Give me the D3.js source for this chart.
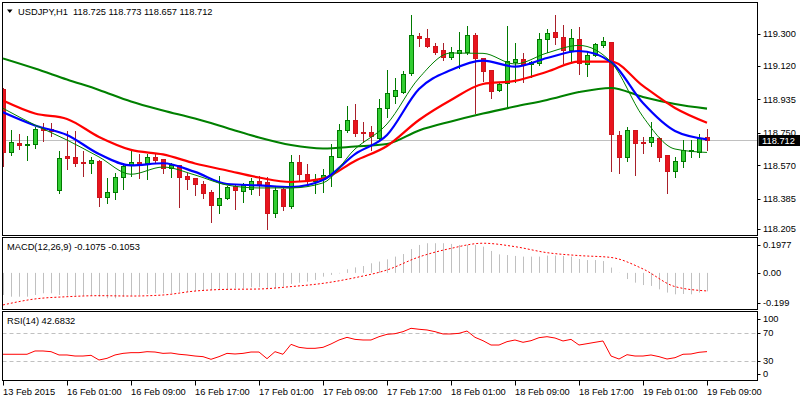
<!DOCTYPE html>
<html>
<head>
<meta charset="utf-8">
<script src="https://cdn.jsdelivr.net/npm/d3@7/dist/d3.min.js"></script>
<style>
  html, body { margin: 0; padding: 0; background: #fff; }
  svg { display: block; }
  text { font-family: "Liberation Sans", Arial, sans-serif; font-size: 9.3px; fill: #000; }
</style>
</head>
<body>
<svg id="chart" width="800" height="400"></svg>
<script>
// USDJPY H1 candles with 4 moving averages, MACD and RSI sub-windows

const symbolTitle = "USDJPY,H1  118.725 118.773 118.657 118.712";

const timeLabels = ["13 Feb 2015", "16 Feb 01:00", "16 Feb 09:00", "16 Feb 17:00", "17 Feb 01:00", "17 Feb 09:00",
  "17 Feb 17:00", "18 Feb 01:00", "18 Feb 09:00", "18 Feb 17:00", "19 Feb 01:00", "19 Feb 09:00"];
const timeTickBars = [0, 8, 16, 24, 32, 40, 48, 56, 64, 72, 80, 88];

const open = [118.993, 118.645, 118.692, 118.681, 118.686, 118.777, 118.771, 118.433, 118.621, 118.614,
  118.590, 118.581, 118.594, 118.392, 118.420, 118.503, 118.570, 118.586, 118.584, 118.614,
  118.603, 118.553, 118.570, 118.509, 118.498, 118.464, 118.422, 118.351, 118.387, 118.455,
  118.429, 118.440, 118.483, 118.475, 118.303, 118.436, 118.345, 118.586, 118.520, 118.484,
  118.492, 118.520, 118.617, 118.764, 118.821, 118.753, 118.753, 118.722, 118.889, 118.956,
  118.975, 119.084, 119.287, 119.276, 119.233, 119.210, 119.172, 119.195, 119.200, 119.291,
  119.163, 119.099, 118.988, 119.025, 119.145, 119.158, 119.130, 119.136, 119.269, 119.308,
  119.280, 119.210, 119.269, 119.132, 119.182, 119.236, 119.254, 118.738, 118.617, 118.766,
  118.701, 118.701, 118.720, 118.625, 118.540, 118.595, 118.651, 118.645, 118.725];
const high = [118.999, 118.766, 118.743, 118.732, 118.784, 118.803, 118.803, 118.649, 118.760, 118.760,
  118.649, 118.617, 118.600, 118.498, 118.529, 118.581, 118.655, 118.633, 118.633, 118.633,
  118.605, 118.581, 118.571, 118.525, 118.499, 118.484, 118.433, 118.510, 118.455, 118.458,
  118.470, 118.501, 118.512, 118.503, 118.449, 118.442, 118.627, 118.627, 118.577, 118.521,
  118.547, 118.688, 118.799, 118.899, 118.910, 118.812, 118.788, 118.936, 119.099, 119.053,
  119.093, 119.404, 119.306, 119.326, 119.248, 119.247, 119.225, 119.311, 119.343, 119.302,
  119.165, 119.101, 119.032, 119.343, 119.247, 119.191, 119.149, 119.302, 119.324, 119.404,
  119.348, 119.324, 119.339, 119.200, 119.247, 119.280, 119.254, 118.762, 118.784, 118.766,
  118.725, 118.810, 118.727, 118.627, 118.614, 118.711, 118.711, 118.742, 118.773];
const low = [118.566, 118.627, 118.662, 118.600, 118.667, 118.706, 118.734, 118.415, 118.548, 118.566,
  118.512, 118.525, 118.345, 118.362, 118.383, 118.438, 118.512, 118.501, 118.495, 118.581,
  118.529, 118.506, 118.340, 118.440, 118.403, 118.387, 118.257, 118.303, 118.381, 118.326,
  118.368, 118.409, 118.405, 118.215, 118.284, 118.322, 118.334, 118.488, 118.470, 118.414,
  118.423, 118.456, 118.614, 118.756, 118.734, 118.697, 118.655, 118.716, 118.839, 118.914,
  118.969, 119.071, 119.232, 119.225, 119.187, 119.154, 119.158, 119.108, 119.187, 118.858,
  119.039, 118.941, 118.982, 118.899, 119.034, 119.034, 119.061, 119.126, 119.200, 119.241,
  119.136, 119.136, 119.076, 119.065, 119.176, 119.228, 118.540, 118.525, 118.595, 118.516,
  118.640, 118.677, 118.595, 118.418, 118.506, 118.562, 118.614, 118.617, 118.657];
const close = [118.644, 118.697, 118.681, 118.688, 118.769, 118.763, 118.758, 118.609, 118.612, 118.584,
  118.581, 118.597, 118.395, 118.420, 118.503, 118.566, 118.586, 118.577, 118.614, 118.601,
  118.553, 118.570, 118.506, 118.495, 118.468, 118.418, 118.351, 118.387, 118.451, 118.433,
  118.459, 118.483, 118.468, 118.303, 118.433, 118.345, 118.586, 118.520, 118.488, 118.492,
  118.516, 118.621, 118.764, 118.821, 118.751, 118.749, 118.734, 118.886, 118.969, 118.988,
  119.075, 119.293, 119.274, 119.233, 119.198, 119.172, 119.198, 119.210, 119.291, 119.167,
  119.095, 118.984, 119.021, 119.148, 119.158, 119.130, 119.141, 119.269, 119.306, 119.280,
  119.210, 119.274, 119.136, 119.182, 119.241, 119.259, 118.741, 118.614, 118.766, 118.695,
  118.697, 118.725, 118.617, 118.540, 118.594, 118.655, 118.655, 118.720, 118.712];

// moving averages, read every 4th bar
const maBars = [0, 4, 8, 12, 16, 20, 24, 28, 32, 36, 40, 44, 48, 52, 56, 60, 64, 68, 72, 76, 80, 84, 88];
const maFast = [118.886, 118.793, 118.710, 118.616, 118.520, 118.560, 118.516, 118.460, 118.444, 118.444,
  118.472, 118.660, 118.799, 119.054, 119.193, 119.191, 119.132, 119.193, 119.235, 119.143, 118.839, 118.660, 118.641];
const maBlue = [118.864, 118.791, 118.738, 118.632, 118.569, 118.581, 118.533, 118.466, 118.458, 118.449,
  118.488, 118.632, 118.738, 118.993, 119.099, 119.151, 119.117, 119.165, 119.204, 119.143, 118.915, 118.760, 118.714];
const maRed = [118.929, 118.857, 118.827, 118.727, 118.655, 118.630, 118.580, 118.541, 118.502, 118.477,
  118.496, 118.594, 118.677, 118.821, 118.932, 119.021, 119.038, 119.089, 119.145, 119.145, 119.010, 118.888, 118.806];
const maSlow = [119.163, 119.107, 119.046, 118.988, 118.924, 118.874, 118.829, 118.777, 118.724, 118.682,
  118.663, 118.674, 118.688, 118.763, 118.813, 118.857, 118.896, 118.932, 118.976, 118.999, 118.949, 118.910, 118.884];

const priceTicks = [119.300, 119.120, 118.935, 118.750, 118.570, 118.385, 118.205];
const lastPrice = 118.712;

const macdMain = [-0.129, -0.139, -0.139, -0.139, -0.129, -0.119, -0.119, -0.129, -0.133, -0.133,
  -0.133, -0.133, -0.139, -0.148, -0.148, -0.139, -0.133, -0.129, -0.123, -0.119,
  -0.119, -0.119, -0.110, -0.110, -0.106, -0.106, -0.100, -0.100, -0.096, -0.090,
  -0.090, -0.084, -0.084, -0.090, -0.090, -0.080, -0.065, -0.057, -0.051, -0.041,
  -0.022, -0.012, -0.003, 0.021, 0.032, 0.040, 0.056, 0.066, 0.079, 0.095,
  0.110, 0.139, 0.163, 0.173, 0.173, 0.173, 0.169, 0.163, 0.163, 0.163,
  0.153, 0.128, 0.108, 0.104, 0.099, 0.095, 0.095, 0.095, 0.101, 0.101,
  0.099, 0.095, 0.081, 0.075, 0.075, 0.069, 0.031, 0.001, -0.036, -0.057,
  -0.071, -0.076, -0.096, -0.115, -0.125, -0.123, -0.125, -0.115, -0.1075];
const macdSignal = [-0.187, -0.152, -0.139, -0.133, -0.135, -0.129, -0.106, -0.096, -0.094, -0.080,
  -0.061, -0.028, 0.017, 0.093, 0.143, 0.173, 0.153, 0.118, 0.101, 0.090, 0.023, -0.080, -0.1053];
const macdTicks = [0.1977, 0.00, -0.199];

const rsi = [38.9, 38.9, 38.9, 38.9, 43.6, 43.6, 42.6, 37.9, 37.9, 36.4,
  36.4, 37.4, 30.7, 33.1, 37.9, 40.2, 41.2, 41.2, 42.6, 42.1,
  40.2, 40.7, 38.9, 37.9, 36.4, 35.5, 31.7, 35.5, 40.2, 39.3,
  40.2, 42.1, 42.1, 32.6, 42.6, 38.9, 53.1, 48.8, 47.4, 47.4,
  48.8, 53.6, 59.3, 63.1, 60.2, 59.3, 59.3, 64.0, 67.4, 68.3,
  71.2, 76.0, 74.6, 73.6, 71.2, 67.9, 67.9, 68.8, 72.1, 63.1,
  58.3, 52.1, 52.1, 56.9, 59.3, 56.0, 58.3, 62.6, 64.0, 62.1,
  57.9, 60.2, 52.1, 54.0, 56.0, 57.9, 36.4, 32.1, 38.3, 36.4,
  36.4, 37.9, 35.5, 32.1, 34.0, 38.9, 39.3, 41.7, 42.6832];
const rsiLevels = [70, 30];
const rsiTicks = [100, 70, 30, 0];

// layout (MT4 style frames)
const L = 2.5, R = 757.5;
const panes = {
  main: { top: 2.5, bottom: 235.5 },
  macd: { top: 237.5, bottom: 309.5 },
  rsi: { top: 311.5, bottom: 380.5 },
};

const svg = d3.select("#chart");
const defs = svg.append("defs");

function addClip(id, p) {
  defs.append("clipPath").attr("id", id)
    .append("rect").attr("x", L + 0.5).attr("y", p.top + 0.5)
    .attr("width", R - L - 1).attr("height", p.bottom - p.top - 1);
}
addClip("clip-main", panes.main);
addClip("clip-macd", panes.macd);
addClip("clip-rsi", panes.rsi);

const x = d3.scaleLinear().domain([0, 88]).range([3, 707]);
const y = d3.scaleLinear().domain([118.1829, 119.4704]).range([235, 3]);
const yM = d3.scaleLinear().domain([-0.199, 0.1977]).range([307, 239]);
const yR = d3.scaleLinear().domain([0, 100]).range([381.5, 311.5]);

const bars = d3.range(open.length).map((i) => ({
  i, o: open[i], h: high[i], l: low[i], c: close[i], up: close[i] >= open[i],
}));

// ---- main pane ----
const gMain = svg.append("g").attr("clip-path", "url(#clip-main)");

// bid line
gMain.append("line")
  .attr("x1", L).attr("x2", R)
  .attr("y1", Math.round(y(lastPrice)) + 0.5).attr("y2", Math.round(y(lastPrice)) + 0.5)
  .attr("stroke", "#c0c0c0").attr("stroke-width", 1);

const candle = gMain.append("g").selectAll("g").data(bars).enter().append("g");

candle.append("line")
  .attr("x1", (d) => x(d.i) + 0.5).attr("x2", (d) => x(d.i) + 0.5)
  .attr("y1", (d) => Math.round(y(d.h))).attr("y2", (d) => Math.round(y(d.l)) + 1)
  .attr("stroke", (d) => (d.up ? "#007a00" : "#a8202a")).attr("stroke-width", 1);

candle.append("rect")
  .attr("x", (d) => x(d.i) - 1.5).attr("width", 4)
  .attr("y", (d) => Math.round(y(Math.max(d.o, d.c))) + 0.5)
  .attr("height", (d) => Math.max(1, Math.round(y(Math.min(d.o, d.c))) - Math.round(y(Math.max(d.o, d.c)))))
  .attr("fill", (d) => (d.up ? "#32cd32" : "#e8141e"))
  .attr("stroke", (d) => (d.up ? "#007a00" : "#d0141c")).attr("stroke-width", 1);

function maLine(values, color, width) {
  const pts = maBars.map((b, k) => ({ i: b, v: values[k] }));
  const line = d3.line().x((d) => x(d.i)).y((d) => y(d.v)).curve(d3.curveMonotoneX);
  gMain.append("path").datum(pts)
    .attr("d", line).attr("fill", "none")
    .attr("stroke", color).attr("stroke-width", width)
    .attr("stroke-linejoin", "round");
}
maLine(maSlow, "#008000", 2.1);
maLine(maRed, "#ff0000", 2.2);
maLine(maBlue, "#0000ff", 2.2);
maLine(maFast, "#008000", 1);

// ---- MACD pane ----
const gMacd = svg.append("g").attr("clip-path", "url(#clip-macd)");
gMacd.append("g").selectAll("line").data(macdMain).enter().append("line")
  .attr("x1", (d, i) => x(i) + 0.5).attr("x2", (d, i) => x(i) + 0.5)
  .attr("y1", yM(0)).attr("y2", (d) => yM(d))
  .attr("stroke", "#c0c0c0").attr("stroke-width", 1);

gMacd.append("path")
  .datum(maBars.map((b, k) => ({ i: b, v: macdSignal[k] })))
  .attr("d", d3.line().x((d) => x(d.i)).y((d) => yM(d.v)).curve(d3.curveMonotoneX))
  .attr("fill", "none").attr("stroke", "#ff0000").attr("stroke-width", 1)
  .attr("stroke-dasharray", "2,2");

// ---- RSI pane ----
const gRsi = svg.append("g").attr("clip-path", "url(#clip-rsi)");
gRsi.selectAll("line.level").data(rsiLevels).enter().append("line")
  .attr("class", "level")
  .attr("x1", L).attr("x2", R)
  .attr("y1", (d) => Math.round(yR(d)) + 0.5).attr("y2", (d) => Math.round(yR(d)) + 0.5)
  .attr("stroke", "#c0c0c0").attr("stroke-dasharray", "4,3");

gRsi.append("path").datum(rsi)
  .attr("d", d3.line().x((d, i) => x(i)).y((d) => yR(d)))
  .attr("fill", "none").attr("stroke", "#ff0000").attr("stroke-width", 1);

// ---- frames ----
Object.values(panes).forEach((p) => {
  svg.append("rect")
    .attr("x", L).attr("y", p.top)
    .attr("width", R - L).attr("height", p.bottom - p.top)
    .attr("fill", "none").attr("stroke", "#000").attr("stroke-width", 1);
});

// ---- right axes ----
function rightAxis(ticks, scale, pane, fmt) {
  const g = svg.append("g");
  ticks.forEach((v) => {
    // MT4 keeps the label inside the window
    const yy = Math.min(pane.bottom - 6.5, Math.max(pane.top + 7, scale(v)));
    g.append("line")
      .attr("x1", R).attr("x2", R + 3)
      .attr("y1", Math.round(yy) + 0.5).attr("y2", Math.round(yy) + 0.5)
      .attr("stroke", "#000");
    g.append("text")
      .attr("x", 763).attr("y", yy).attr("dy", "0.35em")
      .text(fmt(v));
  });
}
rightAxis(priceTicks, y, panes.main, d3.format(".3f"));
rightAxis(macdTicks, yM, panes.macd, (v) => (v === 0 ? "0.00" : String(v)));
rightAxis(rsiTicks, yR, panes.rsi, (v) => String(v));

// current price tag (covers the lower half of the nearest tick label, as in MT4)
const yLast = Math.round(y(lastPrice));
svg.append("rect")
  .attr("x", R + 1).attr("y", yLast - 5).attr("width", 800 - R).attr("height", 11)
  .attr("fill", "#000");
svg.append("text")
  .attr("x", 762).attr("y", yLast + 0.5).attr("dy", "0.35em")
  .style("fill", "#fff")
  .text(d3.format(".3f")(lastPrice));

// ---- time axis ----
const gTime = svg.append("g");
timeTickBars.forEach((b, k) => {
  gTime.append("line")
    .attr("x1", x(b) + 0.5).attr("x2", x(b) + 0.5)
    .attr("y1", panes.rsi.bottom).attr("y2", panes.rsi.bottom + 5)
    .attr("stroke", "#000");
  gTime.append("text")
    .attr("x", x(b)).attr("y", 395)
    .text(timeLabels[k]);
});

// ---- titles ----
svg.append("path").attr("d", "M7,9.5 L12.5,9.5 L9.75,13 Z").attr("fill", "#000");
svg.append("text").attr("x", 18).attr("y", 14.5)
  .attr("xml:space", "preserve").style("white-space", "pre")
  .text(symbolTitle);
svg.append("text").attr("x", 7).attr("y", 249.5)
  .text(`MACD(12,26,9) ${macdMain[macdMain.length - 1].toFixed(4)} ${macdSignal[macdSignal.length - 1].toFixed(4)}`);
svg.append("text").attr("x", 7).attr("y", 324)
  .text(`RSI(14) ${rsi[rsi.length - 1].toFixed(4)}`);
</script>
</body>
</html>
